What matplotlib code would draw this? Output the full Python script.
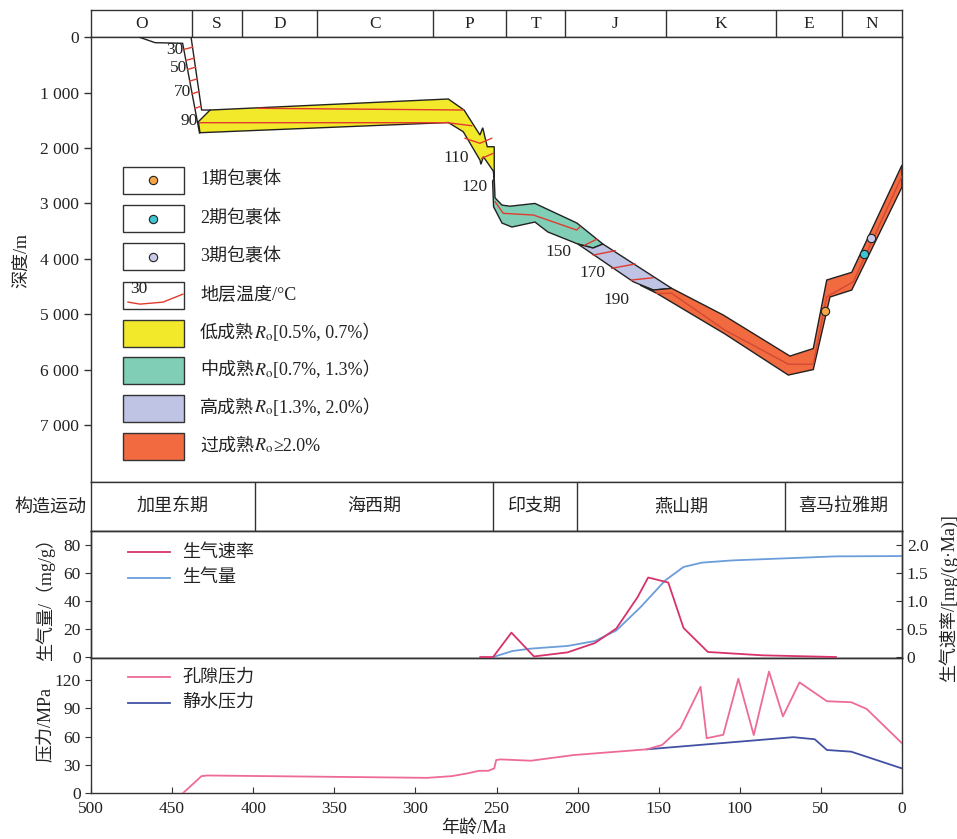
import numpy as np
import matplotlib.pyplot as plt
from matplotlib.patches import Polygon, Rectangle
from matplotlib.offsetbox import TextArea, HPacker, AnnotationBbox

plt.rcParams['font.family'] = ['Liberation Serif', 'Noto Sans CJK SC']
plt.rcParams['mathtext.fontset'] = 'stix'
plt.rcParams['font.size'] = 12.5
plt.rcParams['axes.linewidth'] = 1.0
plt.rcParams['axes.edgecolor'] = '#333333'
plt.rcParams['text.color'] = '#222222'
plt.rcParams['xtick.color'] = '#333333'
plt.rcParams['ytick.color'] = '#333333'
plt.rcParams['xtick.labelcolor'] = '#222222'
plt.rcParams['ytick.labelcolor'] = '#222222'

# geologic periods and tectonic episodes (Ma)
periods = ['O', 'S', 'D', 'C', 'P', 'T', 'J', 'K', 'E', 'N']
period_bounds = [500, 437.7, 406.9, 360.7, 289.2, 244.1, 207.8, 145.5, 77.7, 37.0, 0]
tecto = ['加里东期', '海西期', '印支期', '燕山期', '喜马拉雅期']
tecto_bounds = [500, 398.9, 252.2, 200.4, 72.1, 0]

# burial history of the source interval (age Ma, depth m)
base_line_age = [470.0, 460.5, 443.5, 433.1]
base_line_dep = [0, 97, 108, 1728]
top_line_age = [438.3, 431.8, 426.6]
top_line_dep = [0, 1313, 1313]

low_age = [433.8, 426.6, 279.7, 270.0, 260.2, 258.5, 255.7, 251.4, 251.4,
           252.0, 258.1, 259.6, 260.2, 270.5, 279.7, 432.8]
low_dep = [1524, 1313, 1114, 1313, 1764, 1633, 1976, 1976, 2541,
           2415, 2156, 2294, 2216, 1705, 1539, 1723]
mid_age = [251.4, 250.9, 246.6, 241.7, 226.3, 200.4, 184.4, 190.5, 199.8,
           218.3, 226.3, 240.5, 246.6, 251.8, 252.4]
mid_dep = [2541, 2900, 3030, 3050, 3000, 3354, 3733, 3805, 3733,
           3516, 3336, 3426, 3354, 3060, 2600]
high_age = [184.4, 142.0, 153.3, 165.7, 199.8, 190.5]
high_dep = [3733, 4533, 4564, 4414, 3733, 3805]
over_age = [142.0, 110.2, 69.1, 54.7, 46.4, 31.0, 0, 0, 31.0, 44.4, 54.7, 70.1,
            109.1, 151.2, 161.5, 153.3]
over_dep = [4533, 5015, 5756, 5620, 4383, 4244, 2306, 2704, 4564, 4690, 6000, 6099,
            5358, 4623, 4474, 4564]

# isotherm traces
strip_iso_dep = [199, 397, 560, 771, 1000, 1264]
iso1_age = [396.9, 270.5]
iso1_dep = [1282, 1313]
iso2_age = [432.8, 280.3, 265.3]
iso2_dep = [1542, 1542, 1597]
iso3_age = [269.4, 260.2, 253.0]
iso3_dep = [1824, 1914, 1824]
iso4_age = [259.1, 252.0]
iso4_dep = [2185, 2095]
iso5_age = [250.9, 245.8, 227.3, 200.6, 198.6]
iso5_dep = [2969, 3179, 3209, 3480, 3421]
iso6_age = [151.2, 142.0, 109.1, 70.1, 54.7, 46.4, 30.0, 0]
iso6_dep = [4623, 4623, 5289, 5903, 5903, 4685, 4414, 2505]
tick_age0 = [195.5, 190.3, 179.0, 166.8]
tick_dep0 = [3751, 3932, 4172, 4383]
tick_age1 = [188.3, 176.9, 164.6, 153.5]
tick_dep1 = [3648, 3854, 4094, 4342]
temp_labels = ['30', '50', '70', '90', '110', '120', '150', '170', '190']
temp_lab_age = [443.3, 440.8, 438.3, 434.0, 267.0, 255.2, 203.5, 183.1, 168.3]
temp_lab_dep = [229, 554, 988, 1512, 2180, 2703, 3877, 4257, 4745]

# fluid inclusions
incl_age = [47.5, 23.4, 19.1]
incl_dep = [4937, 3914, 3630]
incl_colors = ['#f5a547', '#3ec4d2', '#c9c9e8']

# gas generation
amount_age = [252.1, 240.1, 228.8, 206.2, 189.3, 176.1, 161.1, 146.0, 134.7, 123.4, 104.6, 67.0, 40.7, 0]
amount_val = [0, 4.3, 6.0, 7.9, 11.4, 19.0, 35.7, 54.7, 64.3, 67.4, 69.0, 70.7, 71.9, 72.1]
rate_age = [260.0, 252.1, 240.8, 226.9, 206.2, 189.3, 176.1, 163.0, 156.5, 144.1, 134.7, 119.7, 85.8, 40.7]
rate_val = [0, 0, 0.435, 0.01, 0.083, 0.25, 0.51, 1.07, 1.42, 1.33, 0.52, 0.09, 0.03, 0]

# pressure evolution
pore_age = [443.2, 431.9, 428.2, 292.7, 277.7, 268.3, 260.7, 255.1, 251.4, 250.2, 247.6, 228.8,
            202.5, 157.3, 147.9, 136.6, 124.2, 120.4, 110.2, 100.9, 91.4, 82.0, 73.4, 63.2,
            46.3, 31.3, 21.8, 0]
pore_val = [0, 17.9, 18.6, 16.1, 17.9, 20.7, 23.6, 23.6, 26.1, 35.0, 35.7, 34.3,
            40.3, 46.4, 51.0, 68.9, 112.8, 58.2, 61.8, 121.4, 61.5, 129.0, 81.4, 117.5,
            97.5, 96.4, 89.3, 52.8]
hydro_age = [157.3, 67.0, 53.8, 46.3, 31.3, 0]
hydro_val = [46.4, 59.3, 57.1, 45.7, 43.9, 26.1]

RED = '#e23b2e'
EDGE = '#222222'
W, H = 957, 839


def px_rect(x0, y0, x1, y1):
    return [x0 / W, 1 - y1 / H, (x1 - x0) / W, (y1 - y0) / H]


fig = plt.figure(figsize=(W / 100, H / 100), dpi=100)
ax_per = fig.add_axes(px_rect(91, 10, 902, 37.3))
ax_bur = fig.add_axes(px_rect(91, 37.3, 902, 482))
ax_tec = fig.add_axes(px_rect(91, 482, 902, 531))
ax_gas = fig.add_axes(px_rect(91, 531, 902, 658))
ax_p = fig.add_axes(px_rect(91, 658, 902, 793))
for ax in (ax_per, ax_bur, ax_tec, ax_gas, ax_p):
    ax.set_xlim(500, 0)

# period strip
for b in period_bounds[1:-1]:
    ax_per.axvline(b, color='#333333', lw=1.0)
for lo, hi, name in zip(period_bounds[:-1], period_bounds[1:], periods):
    ax_per.text((lo + hi) / 2, 0.5, name, ha='center', va='center',
                transform=ax_per.get_xaxis_transform(), fontsize=12.5)
ax_per.set_xticks([])
ax_per.set_yticks([])

# tectonic row
for b in tecto_bounds[1:-1]:
    ax_tec.axvline(b, color='#333333', lw=1.0)
for lo, hi, name in zip(tecto_bounds[:-1], tecto_bounds[1:], tecto):
    ax_tec.text((lo + hi) / 2, 0.5, name, ha='center', va='center',
                transform=ax_tec.get_xaxis_transform(), fontsize=13)
ax_tec.set_xticks([])
ax_tec.set_yticks([])

# burial history
ax_bur.set_ylim(8030, 0)
ax_bur.set_yticks(range(0, 8000, 1000))
ax_bur.set_yticklabels(['0', '1 000', '2 000', '3 000', '4 000', '5 000', '6 000', '7 000'])
ax_bur.set_xticks([])
ax_bur.tick_params(axis='y', direction='out', length=5, width=1.0, labelsize=12.5)

zones = [(low_age, low_dep, '#f3e92b'), (mid_age, mid_dep, '#80ceb6'),
         (high_age, high_dep, '#bfc3e4'), (over_age, over_dep, '#f26a40')]
for za, zd, zc in zones:
    ax_bur.add_patch(Polygon(np.column_stack([za, zd]), closed=True, fc=zc,
                             ec=EDGE, lw=1.0, zorder=2))

ax_bur.plot(base_line_age, base_line_dep, color=EDGE, lw=1.0, zorder=3)
ax_bur.plot(top_line_age, top_line_dep, color=EDGE, lw=1.0, zorder=3)

for d in strip_iso_dep:
    a_left = np.interp(d + 20, base_line_dep[2:], base_line_age[2:])
    a_right = np.interp(d - 20, top_line_dep[:2], top_line_age[:2])
    ax_bur.plot([a_left, a_right], [d + 20, d - 20], color=RED, lw=1.0, zorder=3)

for ia, idp in [(iso1_age, iso1_dep), (iso2_age, iso2_dep), (iso3_age, iso3_dep),
                (iso4_age, iso4_dep), (iso5_age, iso5_dep)]:
    ax_bur.plot(ia, idp, color=RED, lw=1.0, zorder=3)
ax_bur.plot(iso6_age, iso6_dep, color='#d24a34', lw=1.0, zorder=3)
for a0, d0, a1, d1 in zip(tick_age0, tick_dep0, tick_age1, tick_dep1):
    ax_bur.plot([a0, a1], [d0, d1], color=RED, lw=1.0, zorder=3)

for lab, la, ld in zip(temp_labels, temp_lab_age, temp_lab_dep):
    ax_bur.text(la, ld, lab, ha='right', va='center', fontsize=12.5)

for ia, idp, ic in zip(incl_age, incl_dep, incl_colors):
    ax_bur.plot(ia, idp, 'o', ms=6, mfc=ic, mec=EDGE, mew=0.8, zorder=5)

# legend of the burial panel
leg_y = [0.6787, 0.5921, 0.5067, 0.4202, 0.3348, 0.2517, 0.1663, 0.0809]
box_x, box_w, box_h = 0.0395, 0.0752, 0.0607
fills = ['white', 'white', 'white', 'white', '#f3e92b', '#80ceb6', '#bfc3e4', '#f26a40']
for fy, fc in zip(leg_y, fills):
    ax_bur.add_patch(Rectangle((box_x, fy - box_h / 2), box_w, box_h, fc=fc, ec='#333333',
                               lw=1.0, transform=ax_bur.transAxes, zorder=4))
for fy, ic in zip(leg_y[:3], incl_colors):
    ax_bur.plot(0.0764, fy, 'o', ms=6, mfc=ic, mec=EDGE, mew=0.8,
                transform=ax_bur.transAxes, zorder=5)
ax_bur.plot([0.0456, 0.0604, 0.0888, 0.1134], [0.4045, 0.4000, 0.4045, 0.4225],
            color=RED, lw=1.0, transform=ax_bur.transAxes, zorder=5)
ax_bur.text(0.0592, 0.4330, '30', ha='center', va='center', fontsize=12.5,
            transform=ax_bur.transAxes, zorder=5)

text_x = 0.1344
for fy, s in zip(leg_y[:4], ['1期包裹体', '2期包裹体', '3期包裹体', '地层温度/°C']):
    ax_bur.text(text_x, fy, s, ha='left', va='center', fontsize=13, transform=ax_bur.transAxes)

ro_rows = [('低成熟', '[0.5%, 0.7%）'), ('中成熟', '[0.7%, 1.3%）'),
           ('高成熟', '[1.3%, 2.0%）'), ('过成熟', '≥2.0%')]
for fy, (pre, post) in zip(leg_y[4:], ro_rows):
    tp = dict(fontsize=13, color='#222222')
    pack = HPacker(children=[TextArea(pre, textprops=tp),
                             TextArea(r'$R_\mathrm{o}$', textprops=tp),
                             TextArea(post, textprops=tp)],
                   align='baseline', pad=0, sep=0)
    ab = AnnotationBbox(pack, (text_x, fy), xycoords='axes fraction',
                        box_alignment=(0, 0.5), frameon=False, pad=0)
    ax_bur.add_artist(ab)

# gas generation panel
ax_gas.plot(amount_age, amount_val, color='#6c9ddb', lw=1.3, zorder=3)
ax_gas.set_ylim(-0.7, 90)
ax_gas.set_yticks([0, 20, 40, 60, 80])
ax_gas.set_xticks([])
ax_gas.tick_params(axis='y', direction='out', length=4, labelsize=12.5)
ax_r = ax_gas.twinx()
ax_r.plot(rate_age, rate_val, color='#d7336b', lw=1.3, zorder=3)
ax_r.set_ylim(-0.7 / 40, 90 / 40)
ax_r.set_xlim(500, 0)
ax_r.set_yticks([0, 0.5, 1.0, 1.5, 2.0])
ax_r.set_yticklabels(['0', '0.5', '1.0', '1.5', '2.0'])
ax_r.tick_params(axis='y', direction='in', length=4, labelsize=12.5)

ax_gas.plot([0.0456, 0.0974], [0.8346, 0.8346], color='#d7336b', lw=1.3,
            transform=ax_gas.transAxes)
ax_gas.text(0.1122, 0.8346, '生气速率', va='center', fontsize=13, transform=ax_gas.transAxes)
ax_gas.plot([0.0456, 0.0974], [0.63, 0.63], color='#6c9ddb', lw=1.3,
            transform=ax_gas.transAxes)
ax_gas.text(0.1122, 0.63, '生气量', va='center', fontsize=13, transform=ax_gas.transAxes)

# pressure panel
ax_p.plot(hydro_age, hydro_val, color='#4251a3', lw=1.3, zorder=3)
ax_p.plot(pore_age, pore_val, color='#ee6a98', lw=1.3, zorder=4)
ax_p.set_ylim(0, 143.4)
ax_p.set_yticks([0, 30, 60, 90, 120])
ax_p.set_xticks(range(500, -1, -50))
ax_p.tick_params(axis='y', direction='out', length=4, labelsize=12.5)
ax_p.tick_params(axis='x', direction='in', length=4, labelsize=12.5, pad=6)

ax_p.plot([0.0456, 0.0974], [0.859, 0.859], color='#ee6a98', lw=1.3, transform=ax_p.transAxes)
ax_p.text(0.1122, 0.859, '孔隙压力', va='center', fontsize=13, transform=ax_p.transAxes)
ax_p.plot([0.0456, 0.0974], [0.667, 0.667], color='#4251a3', lw=1.3, transform=ax_p.transAxes)
ax_p.text(0.1122, 0.667, '静水压力', va='center', fontsize=13, transform=ax_p.transAxes)

# axis titles
fig.text(22 / W, 1 - 260 / H, '深度/m', rotation=90, ha='center', va='center', fontsize=13)
fig.text(45 / W, 1 - 595 / H, '生气量/（mg/g）', rotation=90, ha='center', va='center', fontsize=13)
fig.text(948 / W, 1 - 598 / H, '生气速率/[mg/(g·Ma)]', rotation=90, ha='center', va='center',
         fontsize=13)
fig.text(45 / W, 1 - 725 / H, '压力/MPa', rotation=90, ha='center', va='center', fontsize=13)
fig.text(474 / W, 1 - 828 / H, '年龄/Ma', ha='center', va='center', fontsize=13)
fig.text(50 / W, 1 - 507 / H, '构造运动', ha='center', va='center', fontsize=13)

fig.savefig('out.png', dpi=100)
